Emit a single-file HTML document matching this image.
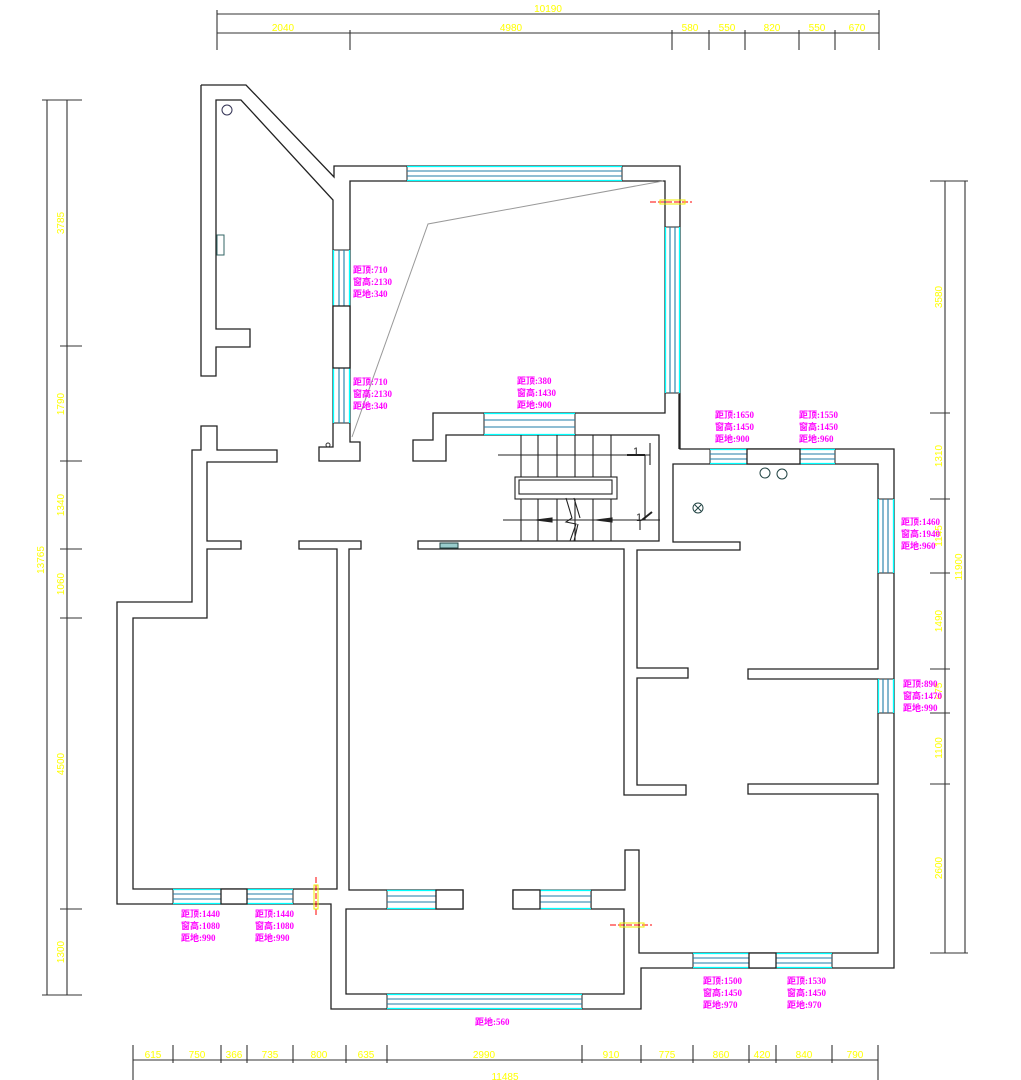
<!DOCTYPE html>
<html><head><meta charset="utf-8"><style>
html,body{margin:0;padding:0;background:#fff}
svg{display:block}
.w{fill:none;stroke:#222;stroke-width:1.3}
.d{fill:none;stroke:#333;stroke-width:1.1}
.y{fill:#ffff00;font-family:"Liberation Sans",sans-serif;font-size:10px}
.m{fill:#ff00ff;font-family:"Liberation Serif","Noto Sans CJK SC",sans-serif;font-size:9px;font-weight:bold}
.cy{stroke:#00ffff;stroke-width:1.3}
.bl{stroke:#1f7ea8;stroke-width:1.1}
</style></head><body>
<svg width="1021" height="1080" viewBox="0 0 1021 1080" xmlns="http://www.w3.org/2000/svg">
<!-- walls -->
<path class="w" d="M201,85 L246,85 L334,177 L334,166 L680,166 L680,449 L894,449 L894,968 L641,968 L641,1009 L331,1009 L331,904 L117,904 L117,602 L192,602 L192,450 L201,450 L201,426 L217,426 L217,450 L277,450 L277,462 L207,462 L207,541 L241,541 L241,549 L207,549 L207,618 L133,618 L133,889 L337,889 L337,549 L299,549 L299,541 L361,541 L361,549 L349,549 L349,890 L463,890 L463,909 L346,909 L346,994 L624,994 L624,909 L591,909 L591,890 L625,890 L625,850 L639,850 L639,953 L878,953 L878,794 L748,794 L748,784 L878,784 L878,679 L748,679 L748,669 L878,669 L878,464 L673,464 L673,542 L740,542 L740,550 L637,550 L637,668 L688,668 L688,678 L637,678 L637,785 L686,785 L686,795 L624,795 L624,549 L418,549 L418,541 L659,541 L659,435 L446,435 L446,461 L413,461 L413,440 L433,440 L433,413 L665,413 L665,181 L350,181 L350,423"/>
<path class="w" d="M513,909 L513,890 L540,890"/>
<path class="w" d="M201,85 L201,376 L216,376 L216,347 L250,347 L250,329 L216,329 L216,100 L241,100 L333,200 L333,447 L319,447 L319,461 L360,461 L360,442 L350,442 L350,423"/>
<path class="w" d="M679,394 L679,449"/>
<!-- thin gray line -->
<path d="M663,181 L428,224 L352,437" fill="none" stroke="#999" stroke-width="1"/>
<!-- windows horizontal -->
<g>
<rect x="407" y="166" width="215" height="15" fill="#fff" stroke="#222"/><line class="cy" x1="407" y1="166.5" x2="622" y2="166.5"/><line class="cy" x1="407" y1="180.5" x2="622" y2="180.5"/><line class="bl" x1="407" y1="171" x2="622" y2="171"/><line class="bl" x1="407" y1="176" x2="622" y2="176"/>
<rect x="484" y="413" width="91" height="22" fill="#fff" stroke="#222"/><line class="cy" x1="484" y1="413.5" x2="575" y2="413.5"/><line class="cy" x1="484" y1="434.5" x2="575" y2="434.5"/><line class="bl" x1="484" y1="420" x2="575" y2="420"/><line class="bl" x1="484" y1="427" x2="575" y2="427"/>
<rect x="710" y="449" width="37" height="15" fill="#fff" stroke="#222"/><line class="cy" x1="710" y1="449.5" x2="747" y2="449.5"/><line class="cy" x1="710" y1="463.5" x2="747" y2="463.5"/><line class="bl" x1="710" y1="454" x2="747" y2="454"/><line class="bl" x1="710" y1="459" x2="747" y2="459"/>
<rect x="800" y="449" width="35" height="15" fill="#fff" stroke="#222"/><line class="cy" x1="800" y1="449.5" x2="835" y2="449.5"/><line class="cy" x1="800" y1="463.5" x2="835" y2="463.5"/><line class="bl" x1="800" y1="454" x2="835" y2="454"/><line class="bl" x1="800" y1="459" x2="835" y2="459"/>
<rect x="173" y="889" width="48" height="15" fill="#fff" stroke="#222"/><line class="cy" x1="173" y1="889.5" x2="221" y2="889.5"/><line class="cy" x1="173" y1="903.5" x2="221" y2="903.5"/><line class="bl" x1="173" y1="894" x2="221" y2="894"/><line class="bl" x1="173" y1="899" x2="221" y2="899"/>
<rect x="247" y="889" width="46" height="15" fill="#fff" stroke="#222"/><line class="cy" x1="247" y1="889.5" x2="293" y2="889.5"/><line class="cy" x1="247" y1="903.5" x2="293" y2="903.5"/><line class="bl" x1="247" y1="894" x2="293" y2="894"/><line class="bl" x1="247" y1="899" x2="293" y2="899"/>
<rect x="387" y="890" width="49" height="19" fill="#fff" stroke="#222"/><line class="cy" x1="387" y1="890.5" x2="436" y2="890.5"/><line class="cy" x1="387" y1="908.5" x2="436" y2="908.5"/><line class="bl" x1="387" y1="896" x2="436" y2="896"/><line class="bl" x1="387" y1="902" x2="436" y2="902"/>
<rect x="540" y="890" width="51" height="19" fill="#fff" stroke="#222"/><line class="cy" x1="540" y1="890.5" x2="591" y2="890.5"/><line class="cy" x1="540" y1="908.5" x2="591" y2="908.5"/><line class="bl" x1="540" y1="896" x2="591" y2="896"/><line class="bl" x1="540" y1="902" x2="591" y2="902"/>
<rect x="387" y="994" width="195" height="15" fill="#fff" stroke="#222"/><line class="cy" x1="387" y1="994.5" x2="582" y2="994.5"/><line class="cy" x1="387" y1="1008.5" x2="582" y2="1008.5"/><line class="bl" x1="387" y1="999" x2="582" y2="999"/><line class="bl" x1="387" y1="1004" x2="582" y2="1004"/>
<rect x="693" y="953" width="56" height="15" fill="#fff" stroke="#222"/><line class="cy" x1="693" y1="953.5" x2="749" y2="953.5"/><line class="cy" x1="693" y1="967.5" x2="749" y2="967.5"/><line class="bl" x1="693" y1="958" x2="749" y2="958"/><line class="bl" x1="693" y1="963" x2="749" y2="963"/>
<rect x="776" y="953" width="56" height="15" fill="#fff" stroke="#222"/><line class="cy" x1="776" y1="953.5" x2="832" y2="953.5"/><line class="cy" x1="776" y1="967.5" x2="832" y2="967.5"/><line class="bl" x1="776" y1="958" x2="832" y2="958"/><line class="bl" x1="776" y1="963" x2="832" y2="963"/>
</g>
<!-- windows vertical -->
<g>
<rect x="333" y="250" width="17" height="56" fill="#fff" stroke="#222"/><line class="cy" x1="333.5" y1="250" x2="333.5" y2="306"/><line class="cy" x1="349.5" y1="250" x2="349.5" y2="306"/><line class="bl" x1="339" y1="250" x2="339" y2="306"/><line class="bl" x1="344" y1="250" x2="344" y2="306"/>
<rect x="333" y="368" width="17" height="55" fill="#fff" stroke="#222"/><line class="cy" x1="333.5" y1="368" x2="333.5" y2="423"/><line class="cy" x1="349.5" y1="368" x2="349.5" y2="423"/><line class="bl" x1="339" y1="368" x2="339" y2="423"/><line class="bl" x1="344" y1="368" x2="344" y2="423"/>
<rect x="665" y="227" width="15" height="166" fill="#fff" stroke="#222"/><line class="cy" x1="665.5" y1="227" x2="665.5" y2="393"/><line class="cy" x1="679.5" y1="227" x2="679.5" y2="393"/><line class="bl" x1="670" y1="227" x2="670" y2="393"/><line class="bl" x1="675" y1="227" x2="675" y2="393"/>
<rect x="878" y="499" width="16" height="74" fill="#fff" stroke="#222"/><line class="cy" x1="878.5" y1="499" x2="878.5" y2="573"/><line class="cy" x1="893.5" y1="499" x2="893.5" y2="573"/><line class="bl" x1="883" y1="499" x2="883" y2="573"/><line class="bl" x1="888" y1="499" x2="888" y2="573"/>
<rect x="878" y="679" width="16" height="34" fill="#fff" stroke="#222"/><line class="cy" x1="878.5" y1="679" x2="878.5" y2="713"/><line class="cy" x1="893.5" y1="679" x2="893.5" y2="713"/><line class="bl" x1="883" y1="679" x2="883" y2="713"/><line class="bl" x1="888" y1="679" x2="888" y2="713"/>
</g>
<!-- wall blocks -->
<g fill="#fff" stroke="#222" stroke-width="1.3">
<rect x="333" y="306" width="17" height="62"/><rect x="747" y="449" width="53" height="15"/><rect x="221" y="889" width="26" height="15"/><rect x="436" y="890" width="27" height="19"/><rect x="513" y="890" width="27" height="19"/><rect x="749" y="953" width="27" height="15"/>
</g>
<!-- stairs -->
<g stroke="#222" stroke-width="1.1" fill="none">
<line x1="521" y1="435" x2="521" y2="541"/><line x1="538" y1="435" x2="538" y2="541"/><line x1="557" y1="435" x2="557" y2="541"/><line x1="575" y1="435" x2="575" y2="541"/><line x1="593" y1="435" x2="593" y2="541"/><line x1="611" y1="435" x2="611" y2="541"/>
<rect x="515" y="477" width="102" height="22" fill="#fff"/><rect x="519" y="480" width="93" height="14"/>
<line x1="498" y1="455" x2="650" y2="455"/><line x1="503" y1="520" x2="660" y2="520"/>
<line x1="645" y1="455" x2="645" y2="520"/><line x1="650" y1="443" x2="650" y2="465"/><line x1="640" y1="520" x2="640" y2="530"/>
<path d="M566,498 L572,518 L566,522 L576,524 L570,541 M574,498 L580,518 M578,524 L574,541"/>
<path d="M536,520 L552,518 L552,522 Z M596,520 L612,518 L612,522 Z" fill="#222"/>
<path d="M627,455 L645,455 M642,520 L652,512" stroke-width="2"/>
</g>
<text x="633" y="455" font-family="Liberation Sans" font-size="11" fill="#222">1</text>
<text x="636" y="521" font-family="Liberation Sans" font-size="11" fill="#222">1</text>
<!-- fixtures -->
<circle cx="227" cy="110" r="5" fill="none" stroke="#335"/>
<rect x="217" y="235" width="7" height="20" fill="#fff" stroke="#366"/>
<circle cx="328" cy="445" r="2" fill="none" stroke="#333"/>
<circle cx="765" cy="473" r="5" fill="none" stroke="#244"/><circle cx="782" cy="474" r="5" fill="none" stroke="#244"/>
<circle cx="698" cy="508" r="5" fill="none" stroke="#244"/><path d="M695,505 L701,511 M701,505 L695,511" stroke="#244"/>
<rect x="440" y="543" width="18" height="5" fill="#9cc" stroke="#244"/>
<!-- red marks -->
<line x1="650" y1="202" x2="692" y2="202" stroke="#f00" stroke-dasharray="6,2"/><rect x="660" y="200" width="25" height="4" fill="none" stroke="#ee0"/>
<line x1="316" y1="877" x2="316" y2="917" stroke="#f00" stroke-dasharray="6,2"/><rect x="314" y="885" width="4" height="24" fill="none" stroke="#ee0"/>
<line x1="610" y1="925" x2="652" y2="925" stroke="#f00" stroke-dasharray="6,2"/><rect x="620" y="923" width="24" height="4" fill="none" stroke="#ee0"/>
<!-- dimensions top -->
<g class="d">
<line x1="217" y1="14" x2="879" y2="14"/><line x1="217" y1="33" x2="879" y2="33"/>
<line x1="217" y1="10" x2="217" y2="50"/><line x1="879" y1="10" x2="879" y2="50"/>
<line x1="350" y1="30" x2="350" y2="50"/><line x1="672" y1="30" x2="672" y2="50"/><line x1="709" y1="30" x2="709" y2="50"/><line x1="745" y1="30" x2="745" y2="50"/><line x1="799" y1="30" x2="799" y2="50"/><line x1="835" y1="30" x2="835" y2="50"/>
<!-- left -->
<line x1="47" y1="100" x2="47" y2="995"/><line x1="67" y1="100" x2="67" y2="995"/>
<line x1="42" y1="100" x2="82" y2="100"/><line x1="60" y1="346" x2="82" y2="346"/><line x1="60" y1="461" x2="82" y2="461"/><line x1="60" y1="549" x2="82" y2="549"/><line x1="60" y1="618" x2="82" y2="618"/><line x1="60" y1="909" x2="82" y2="909"/><line x1="42" y1="995" x2="82" y2="995"/>
<!-- right -->
<line x1="945" y1="181" x2="945" y2="953"/><line x1="965" y1="181" x2="965" y2="953"/>
<line x1="930" y1="181" x2="968" y2="181"/><line x1="930" y1="413" x2="950" y2="413"/><line x1="930" y1="499" x2="950" y2="499"/><line x1="930" y1="573" x2="950" y2="573"/><line x1="930" y1="669" x2="950" y2="669"/><line x1="930" y1="713" x2="950" y2="713"/><line x1="930" y1="784" x2="950" y2="784"/><line x1="930" y1="953" x2="968" y2="953"/>
<!-- bottom -->
<line x1="133" y1="1060" x2="878" y2="1060"/>
<line x1="133" y1="1045" x2="133" y2="1080"/><line x1="878" y1="1045" x2="878" y2="1080"/>
<line x1="173" y1="1045" x2="173" y2="1063"/><line x1="221" y1="1045" x2="221" y2="1063"/><line x1="247" y1="1045" x2="247" y2="1063"/><line x1="293" y1="1045" x2="293" y2="1063"/><line x1="346" y1="1045" x2="346" y2="1063"/><line x1="387" y1="1045" x2="387" y2="1063"/><line x1="582" y1="1045" x2="582" y2="1063"/><line x1="641" y1="1045" x2="641" y2="1063"/><line x1="693" y1="1045" x2="693" y2="1063"/><line x1="749" y1="1045" x2="749" y2="1063"/><line x1="776" y1="1045" x2="776" y2="1063"/><line x1="832" y1="1045" x2="832" y2="1063"/>
</g>
<g class="y" text-anchor="middle">
<text x="548" y="12">10190</text>
<text x="283" y="31">2040</text><text x="511" y="31">4980</text><text x="690" y="31">580</text><text x="727" y="31">550</text><text x="772" y="31">820</text><text x="817" y="31">550</text><text x="857" y="31">670</text>
<text x="153" y="1058">615</text><text x="197" y="1058">750</text><text x="234" y="1058">366</text><text x="270" y="1058">735</text><text x="319" y="1058">800</text><text x="366" y="1058">635</text><text x="484" y="1058">2990</text><text x="611" y="1058">910</text><text x="667" y="1058">775</text><text x="721" y="1058">860</text><text x="762" y="1058">420</text><text x="804" y="1058">840</text><text x="855" y="1058">790</text>
<text x="505" y="1080">11485</text>
<text transform="translate(44,560) rotate(-90)">13765</text>
<text transform="translate(64,223) rotate(-90)">3785</text>
<text transform="translate(64,404) rotate(-90)">1790</text>
<text transform="translate(64,505) rotate(-90)">1340</text>
<text transform="translate(64,584) rotate(-90)">1060</text>
<text transform="translate(64,764) rotate(-90)">4500</text>
<text transform="translate(64,952) rotate(-90)">1300</text>
<text transform="translate(942,297) rotate(-90)">3580</text>
<text transform="translate(942,456) rotate(-90)">1310</text>
<text transform="translate(942,536) rotate(-90)">1145</text>
<text transform="translate(942,621) rotate(-90)">1490</text>
<text transform="translate(942,691) rotate(-90)">675</text>
<text transform="translate(942,748) rotate(-90)">1100</text>
<text transform="translate(942,868) rotate(-90)">2600</text>
<text transform="translate(962,567) rotate(-90)">11900</text>
</g>
<!-- magenta labels -->
<g class="m">
<text x="353" y="273">距顶:710</text><text x="353" y="285">窗高:2130</text><text x="353" y="297">距地:340</text>
<text x="353" y="385">距顶:710</text><text x="353" y="397">窗高:2130</text><text x="353" y="409">距地:340</text>
<text x="517" y="384">距顶:380</text><text x="517" y="396">窗高:1430</text><text x="517" y="408">距地:900</text>
<text x="715" y="418">距顶:1650</text><text x="715" y="430">窗高:1450</text><text x="715" y="442">距地:900</text>
<text x="799" y="418">距顶:1550</text><text x="799" y="430">窗高:1450</text><text x="799" y="442">距地:960</text>
<text x="901" y="525">距顶:1460</text><text x="901" y="537">窗高:1940</text><text x="901" y="549">距地:960</text>
<text x="903" y="687">距顶:890</text><text x="903" y="699">窗高:1470</text><text x="903" y="711">距地:990</text>
<text x="181" y="917">距顶:1440</text><text x="181" y="929">窗高:1080</text><text x="181" y="941">距地:990</text>
<text x="255" y="917">距顶:1440</text><text x="255" y="929">窗高:1080</text><text x="255" y="941">距地:990</text>
<text x="475" y="1025">距地:560</text>
<text x="703" y="984">距顶:1500</text><text x="703" y="996">窗高:1450</text><text x="703" y="1008">距地:970</text>
<text x="787" y="984">距顶:1530</text><text x="787" y="996">窗高:1450</text><text x="787" y="1008">距地:970</text>
</g>
</svg>
</body></html>
